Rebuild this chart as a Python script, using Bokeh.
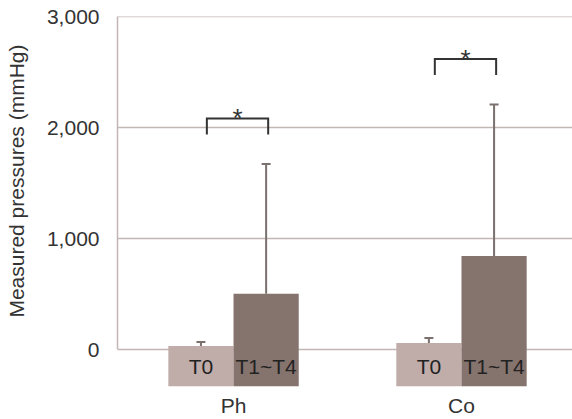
import numpy as np
from bokeh.plotting import figure
from bokeh.models import (ColumnDataSource, Whisker, TeeHead, FixedTicker,
                          NumeralTickFormatter, Range1d)
from bokeh.core.properties import value
from bokeh.embed import file_html
from bokeh.resources import INLINE

# ---- data ----
groups = ["Ph", "Co"]
series = ["T0", "T1~T4"]
t0_mean = [35, 60]
t0_sd = [35, 45]
t1_mean = [505, 845]
t1_sd = [1170, 1365]
y_ticks = [0, 1000, 2000, 3000]
sig_label = ["*", "*"]
y_title = "Measured pressures (mmHg)"

# ---- layout / style constants ----
FONT = "Liberation Sans"
FS = "21px"
TXT = "#333333"
GRID = "#c2b6b2"
C_T0 = "#c0aca8"
C_T1 = "#85736e"
ERR = "#7a706d"
Y_START, Y_END = -331, 3003
X_START, X_END = -0.509, 1.487
BAR_W = 0.286
OFF = 0.143
LABEL_Y = -150
BR_GAP = 265
BR_H = 145
FRAME_LEFT = 117
TITLE_PAD = "\u00a0" * 7   # shifts the centred y title up onto the 0..3000 span

x = np.arange(len(groups), dtype=float)
t0_up = [m + s for m, s in zip(t0_mean, t0_sd)]
t1_up = [m + s for m, s in zip(t1_mean, t1_sd)]

src = ColumnDataSource(dict(
    x0=x - OFF, x1=x + OFF,
    t0=t0_mean, t1=t1_mean,
    t0_up=t0_up, t1_up=t1_up,
    lab0=[series[0]] * len(groups), lab1=[series[1]] * len(groups),
))

p = figure(width=572, height=419,
           x_range=Range1d(X_START, X_END), y_range=Range1d(Y_START, Y_END),
           output_backend="svg", toolbar_location=None,
           min_border_left=FRAME_LEFT, min_border_right=0,
           min_border_top=16, min_border_bottom=31)
p.outline_line_color = None
p.background_fill_color = "white"

# axes
p.yaxis.ticker = FixedTicker(ticks=y_ticks)
p.yaxis.formatter = NumeralTickFormatter(format="0,0")
p.yaxis.bounds = (y_ticks[0], y_ticks[-1])
p.yaxis.axis_line_color = GRID
p.yaxis.axis_line_width = 1.5
p.yaxis.major_tick_out = 0
p.yaxis.major_tick_in = 0
p.yaxis.minor_tick_out = 0
p.yaxis.minor_tick_in = 0
p.yaxis.major_label_text_font = FONT
p.yaxis.major_label_text_font_size = FS
p.yaxis.major_label_text_color = TXT
p.yaxis.major_label_standoff = 18
p.yaxis.axis_label = TITLE_PAD + y_title
p.yaxis.axis_label_text_font = FONT
p.yaxis.axis_label_text_font_size = FS
p.yaxis.axis_label_text_font_style = "normal"
p.yaxis.axis_label_text_color = TXT
p.yaxis.axis_label_standoff = 16

p.xaxis.ticker = FixedTicker(ticks=list(x))
p.xaxis.major_label_overrides = {float(i): g for i, g in enumerate(groups)}
p.xaxis.axis_line_color = None
p.xaxis.major_tick_out = 0
p.xaxis.major_tick_in = 0
p.xaxis.minor_tick_out = 0
p.xaxis.minor_tick_in = 0
p.xaxis.major_label_text_font = FONT
p.xaxis.major_label_text_font_size = FS
p.xaxis.major_label_text_color = TXT
p.xaxis.major_label_standoff = 7

p.xgrid.visible = False
p.ygrid.ticker = FixedTicker(ticks=y_ticks)
p.ygrid.grid_line_color = GRID
p.ygrid.grid_line_width = 1.5

# bars
p.vbar(x="x0", top="t0", bottom=Y_START, width=BAR_W, source=src,
       fill_color=C_T0, line_color=None)
p.vbar(x="x1", top="t1", bottom=Y_START, width=BAR_W, source=src,
       fill_color=C_T1, line_color=None)

# bar labels
for col in ("lab0", "lab1"):
    xc = "x0" if col == "lab0" else "x1"
    p.text(x=xc, y=LABEL_Y, text=col, source=src, text_align="center",
           text_baseline="middle", text_font=value(FONT),
           text_font_size=FS, text_color="#222222")

# error bars (upper only)
for b, lo, up in (("x0", "t0", "t0_up"), ("x1", "t1", "t1_up")):
    w = Whisker(base=b, lower=lo, upper=up, source=src,
                line_color=ERR, line_width=2, lower_head=None,
                upper_head=TeeHead(size=9, line_color=ERR, line_width=2))
    p.add_layout(w)

# significance brackets
xs, ys, sx, sy = [], [], [], []
for i in range(len(groups)):
    l = x[i] - OFF + 0.026
    r = x[i] + OFF + 0.009
    bot = t1_up[i] + BR_GAP
    top = bot + BR_H
    xs.append([l, l, r, r])
    ys.append([bot, top, top, bot])
    sx.append(x[i] + 0.0175)
    sy.append(top)
p.multi_line(xs=xs, ys=ys, line_color="#333333", line_width=2,
             line_join="miter")
p.text(x=sx, y=sy, text=sig_label, text_align="center",
       text_baseline="middle", text_font=value(FONT),
       text_font_size="26px", text_color="#333333")

open("out.html", "w").write(file_html(p, INLINE))
